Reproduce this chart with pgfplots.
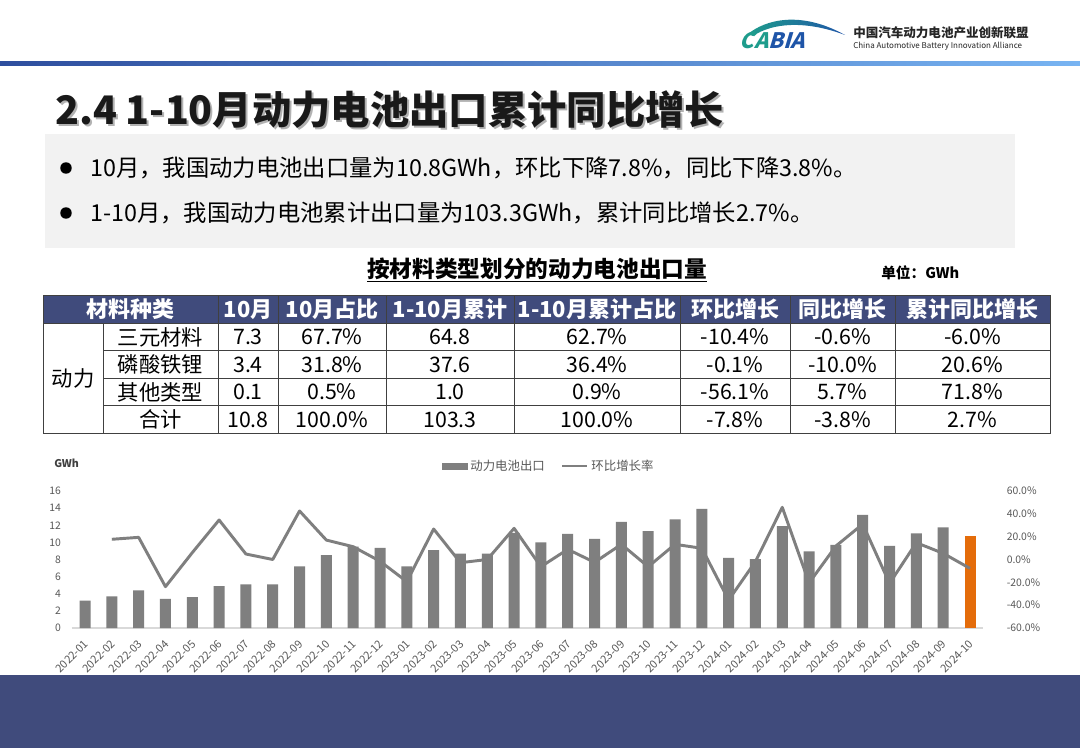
\documentclass[border=0pt]{standalone}
\usepackage{pgfplots}
\pgfplotsset{compat=1.18}
\usepackage{fontspec}
\setmainfont{Noto Sans CJK SC}
\definecolor{navy}{HTML}{404B7C}
\definecolor{boxGray}{HTML}{F2F2F2}
\definecolor{barGray}{HTML}{7F7F7F}
\definecolor{barOrange}{HTML}{E46C0A}
\definecolor{tickText}{HTML}{595959}
\definecolor{axisLine}{HTML}{D9D9D9}
\definecolor{topDark}{HTML}{2E4E9E}
\definecolor{topLight}{HTML}{78B4F2}
\definecolor{logoTeal}{HTML}{1E9C8C}
\definecolor{logoBlue}{HTML}{1F55A8}
\definecolor{gridDark}{HTML}{404040}

\begin{document}
\begin{tikzpicture}[x=0.75pt,y=-0.75pt]
\path[use as bounding box] (0,0) rectangle (1080,748);
\fill[white] (0,0) rectangle (1080,748);

% ---- kopfzeile / logo
\shade[left color=topDark, right color=topLight] (0,62) rectangle (1080,66);
\shade[left color=logoTeal, right color=logoBlue] (748,34) .. controls (765,20) and (800,10) .. (845,35)
      .. controls (805,20) and (772,23) .. (753,36) -- cycle;
\node[anchor=west, inner sep=0pt, xslant=0.3, font=\fontsize{16}{16}\selectfont\bfseries] at (742,41)
      {{\color{logoTeal}CA}{\color{logoBlue}BIA}};
\node[anchor=west, inner sep=0pt, font=\fontsize{9.4}{10}\selectfont\bfseries, text=black!85] at (853,33) {中国汽车动力电池产业创新联盟};
\node[anchor=west, inner sep=0pt, font=\fontsize{6}{7}\selectfont, text=black!85] at (853,46) {China Automotive Battery Innovation Alliance};

% ---- titel
\node[anchor=west, inner sep=0pt, font=\fontsize{29.5}{32}\selectfont\bfseries, text=black!30] at (57,112) {2.4 1-10月动力电池出口累计同比增长};
\node[anchor=west, inner sep=0pt, font=\fontsize{29.5}{32}\selectfont\bfseries, text=black!90] at (55,110) {2.4 1-10月动力电池出口累计同比增长};

% ---- kasten mit stichpunkten
\fill[boxGray] (45,134) rectangle (1015,248);
\fill[black] (66,168) circle (4.3pt);
\fill[black] (66,213) circle (4.3pt);
\node[anchor=west, inner sep=0pt, font=\fontsize{17.5}{20}\selectfont] at (90,168) {10月，我国动力电池出口量为10.8GWh，环比下降7.8\%，同比下降3.8\%。};
\node[anchor=west, inner sep=0pt, font=\fontsize{17.5}{20}\selectfont] at (90,213) {1-10月，我国动力电池累计出口量为103.3GWh，累计同比增长2.7\%。};

% ---- tabelle
\node[inner sep=0pt, font=\fontsize{17}{19}\selectfont\bfseries] at (537,270) {\underline{按材料类型划分的动力电池出口量}};
\node[anchor=west, inner sep=0pt, font=\fontsize{11}{12}\selectfont\bfseries] at (881,273) {单位：GWh};

\fill[navy] (43,296) rectangle (1050,323);
\begin{scope}[draw=gridDark, line width=0.75pt]
  \draw (43,296) rectangle (1050,433);
  \draw (43,323) -- (1050,323);
  \foreach \yy in {350,378,405} \draw (103,\yy) -- (1050,\yy);
  \draw (103,323) -- (103,433);
  \foreach \xx in {218,278,386,514,680,790,895} \draw (\xx,296) -- (\xx,433);
\end{scope}
\begin{scope}[every node/.style={inner sep=0pt, font=\fontsize{16.5}{18}\selectfont\bfseries, text=white}]
  \node at (130.5,309.5) {材料种类};
  \node at (248,309.5) {10月};
  \node at (332,309.5) {10月占比};
  \node at (450,309.5) {1-10月累计};
  \node at (597,309.5) {1-10月累计占比};
  \node at (735,309.5) {环比增长};
  \node at (842.5,309.5) {同比增长};
  \node at (972.5,309.5) {累计同比增长};
\end{scope}
\begin{scope}[every node/.style={inner sep=0pt, font=\fontsize{16}{18}\selectfont}]
  \node at (73,378) {动力};
  \foreach \yy/\a/\b/\c/\d/\e/\f/\g/\h in {
      337/三元材料/7.3/67.7\%/64.8/62.7\%/-10.4\%/-0.6\%/-6.0\%,
      364.5/磷酸铁锂/3.4/31.8\%/37.6/36.4\%/-0.1\%/-10.0\%/20.6\%,
      392/其他类型/0.1/0.5\%/1.0/0.9\%/-56.1\%/5.7\%/71.8\%,
      419.5/合计/10.8/100.0\%/103.3/100.0\%/-7.8\%/-3.8\%/2.7\%} {
    \node at (160.5,\yy) {\a};
    \node at (248,\yy) {\b};
    \node at (332,\yy) {\c};
    \node at (450,\yy) {\d};
    \node at (597,\yy) {\e};
    \node at (735,\yy) {\f};
    \node at (842.5,\yy) {\g};
    \node at (972.5,\yy) {\h};
  }
\end{scope}

% ---- diagramm
\node[anchor=west, inner sep=0pt, font=\fontsize{8}{9}\selectfont\bfseries, text=black!75] at (54,463) {GWh};

\pgfplotsset{
  chartframe/.style={
    at={(53.7pt,-471pt)}, anchor=south west,
    width=683.85pt, height=102.75pt, scale only axis,
    xmin=-0.5, xmax=33.5,
    major tick length=0pt,
    /pgf/number format/assume math mode=true,
    tick label style={font=\fontsize{7.8}{9}\selectfont, text=tickText},
  }
}

% linke achse: exportmenge
\begin{axis}[
  chartframe,
  ymin=0, ymax=16,
  ytick={0,2,...,16},
  xtick={0,...,33},
  xticklabels={2022-01,2022-02,2022-03,2022-04,2022-05,2022-06,2022-07,2022-08,2022-09,2022-10,2022-11,2022-12,
               2023-01,2023-02,2023-03,2023-04,2023-05,2023-06,2023-07,2023-08,2023-09,2023-10,2023-11,2023-12,
               2024-01,2024-02,2024-03,2024-04,2024-05,2024-06,2024-07,2024-08,2024-09,2024-10},
  axis x line*=bottom, axis y line*=left,
  x axis line style={draw=axisLine, line width=0.8pt, -},
  y axis line style={draw=none},
  yticklabel style={xshift=-4.5pt},
  xticklabel style={font=\fontsize{8.3}{9}\selectfont, xshift=3.5pt, yshift=-8pt, rotate=45, anchor=east},
]
\addplot[ybar, bar width=8.25pt, bar shift=0pt, fill=barGray, draw=none] coordinates {
  (0,3.2) (1,3.7) (2,4.4) (3,3.4) (4,3.6) (5,4.9) (6,5.1) (7,5.1) (8,7.2) (9,8.5) (10,9.5) (11,9.35)
  (12,7.2) (13,9.1) (14,8.7) (15,8.7) (16,11.1) (17,10.0) (18,11.0) (19,10.4) (20,12.4) (21,11.3) (22,12.7) (23,13.9)
  (24,8.2) (25,8.05) (26,11.9) (27,8.95) (28,9.7) (29,13.2) (30,9.6) (31,11.05) (32,11.75)
};
\addplot[ybar, bar width=8.25pt, bar shift=0pt, fill=barOrange, draw=none] coordinates {(33,10.8)};
\end{axis}

% rechte achse: wachstum ggue. vormonat
\begin{axis}[
  chartframe,
  ymin=-60, ymax=60,
  ytick={-60,-40,...,60},
  axis y line*=right, axis x line=none,
  y axis line style={draw=none},
  yticklabel={\pgfmathprintnumber[fixed,fixed zerofill,precision=1]{\tick}\%},
  yticklabel style={xshift=14pt},
  legend columns=2,
  legend style={at={(axis description cs:0.5236,1.182)}, anchor=center, draw=none, fill=none,
                font=\fontsize{9.3}{10}\selectfont, text=tickText,
                /tikz/every even column/.append style={column sep=10pt}},
]
\addlegendimage{legend image code/.code={\fill[barGray] (0pt,-2.3pt) rectangle (19pt,2.3pt);}}
\addlegendentry{动力电池出口}
\addplot[barGray, line width=2.2pt, line join=round,
         legend image code/.code={\draw[barGray, line width=2pt] (0pt,0pt) -- (19pt,0pt);}] coordinates {
  (1,17.7) (2,19.4) (3,-23.8) (4,6.0) (5,34.6) (6,4.8) (7,0.0) (8,42.5) (9,17.0) (10,11.2) (11,-1.5)
  (12,-19.4) (13,26.7) (14,-2.8) (15,0.0) (16,27.3) (17,-6.3) (18,8.9) (19,-2.5) (20,13.3) (21,-6.3) (22,13.3) (23,9.8)
  (24,-35.5) (25,-1.8) (26,45.7) (27,-20.5) (28,11.8) (29,31.0) (30,-20.9) (31,14.7) (32,5.4) (33,-7.8)
};
\addlegendentry{环比增长率}
\end{axis}

% ---- fussleiste
\fill[navy] (0,675) rectangle (1080,748);
\end{tikzpicture}
\end{document}
